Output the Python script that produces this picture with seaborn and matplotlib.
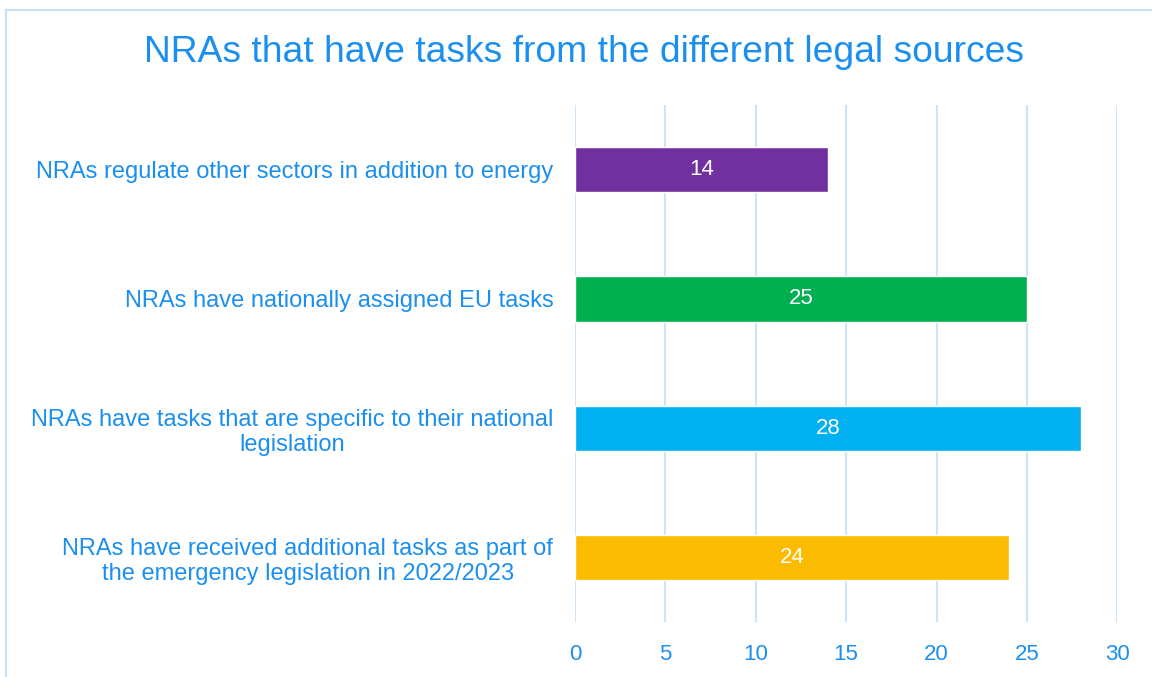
import matplotlib
matplotlib.use("Agg")
import matplotlib.pyplot as plt
import matplotlib.patches as mpatches
import seaborn as sns
import pandas as pd

categories = [
    "NRAs regulate other sectors in addition to energy",
    "NRAs have nationally assigned EU tasks",
    "NRAs have tasks that are specific to their national\nlegislation",
    "NRAs have received additional tasks as part of\nthe emergency legislation in 2022/2023",
]
values = [14, 25, 28, 24]
bar_colors = ["#7030A0", "#00B050", "#00B0F0", "#FABB00"]
x_ticks = [0, 5, 10, 15, 20, 25, 30]
title = "NRAs that have tasks from the different legal sources"

text_blue = "#1A8FF0"
grid_blue = "#CCE4F8"

df = pd.DataFrame({"category": categories, "value": values})

sns.set_theme(style="white")
plt.rcParams["font.family"] = ["Liberation Sans", "DejaVu Sans"]

fig = plt.figure(figsize=(11.52, 6.77), dpi=100)
ax = fig.add_axes([0.499, 0.081, 0.471, 0.764])

sns.barplot(data=df, x="value", y="category", hue="category",
            palette=bar_colors, orient="h", width=0.35, legend=False,
            saturation=1, ax=ax)

ax.set_xlim(0, 30)
ax.set_ylim(3.5, -0.5)
ax.set_xticks(x_ticks)
ax.set_xticklabels([str(t) for t in x_ticks])
ax.grid(axis="x", color=grid_blue, linewidth=1.5)
ax.set_axisbelow(True)
for s in ax.spines.values():
    s.set_visible(False)
ax.set_xlabel("")
ax.set_ylabel("")
ax.tick_params(axis="x", length=0, pad=16, labelsize=16, labelcolor=text_blue)
ax.tick_params(axis="y", length=0, pad=15.5, labelsize=17, labelcolor=text_blue)
for lbl in ax.get_yticklabels():
    lbl.set_multialignment("center")

for i, v in enumerate(values):
    ax.text(v / 2, i, str(v), ha="center", va="center", color="white", fontsize=16)

fig.text(0.507, 1 - 52 / 677, title, ha="center", va="center", fontsize=26.8, color=text_blue)

border = mpatches.Rectangle((6 / 1152, -0.2), 1.2, 1.2 - 10 / 677, transform=fig.transFigure,
                            fill=False, edgecolor="#C7E2F7", linewidth=1.5)
fig.patches.append(border)

fig.savefig("out.png", dpi=100)
